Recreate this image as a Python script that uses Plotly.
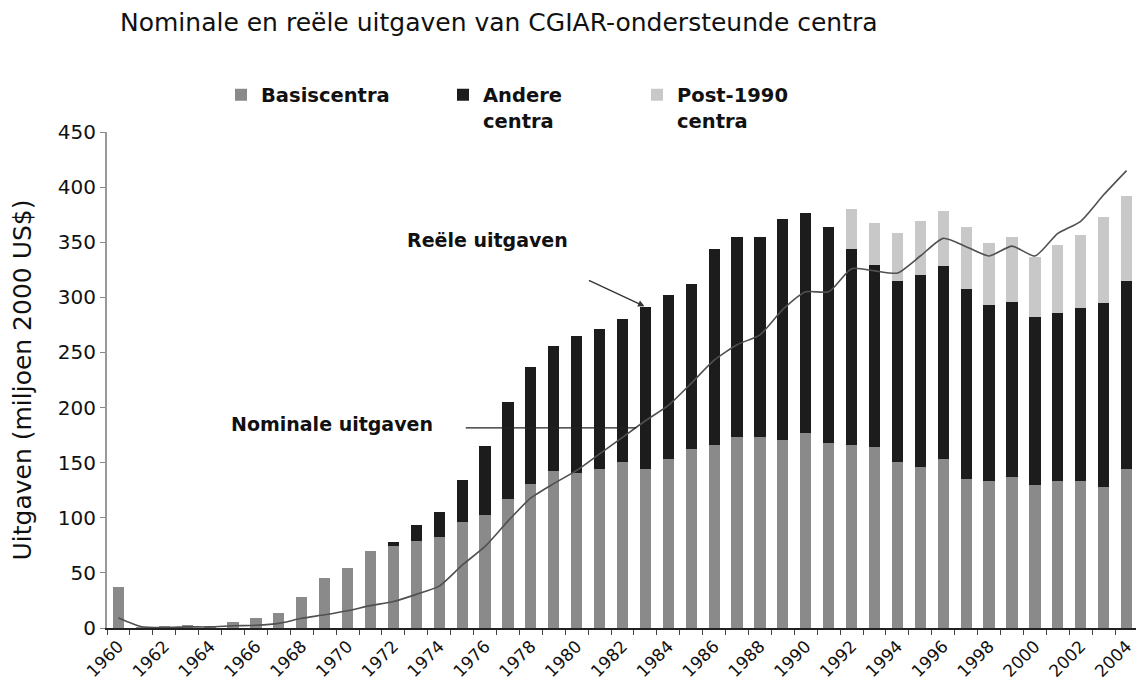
import plotly.graph_objects as go

years = list(range(1960, 2005))

basiscentra = [37.5, 0.5, 1, 3, 2, 5, 9, 14, 28, 45, 54, 70, 74, 79, 83, 96, 102.5, 117, 131, 142.5,
               140.5, 144, 151, 144, 153, 162, 166, 173, 173, 171, 176.5, 167.5, 166, 164, 151, 146,
               153, 135, 133, 137, 130, 133, 133, 128, 144]
andere_centra = [0, 0, 0, 0, 0, 0, 0, 0, 0, 0, 0, 0, 4, 14.5, 22.5, 38.5, 63, 88, 106, 113,
                 124, 127.5, 129.5, 147.5, 149, 150.5, 178, 181.5, 181.5, 200, 200, 196, 178, 165.5, 164, 174.5,
                 175.5, 173, 160, 158.5, 152.5, 153, 157, 167, 171]
post1990_centra = [0] * 32 + [36, 38, 43, 48.5, 49.5, 55.5, 56, 59.5, 54.5, 61.5, 66.5, 77.5, 77]
nominale = [9, 1.2, 0.5, 1, 1, 2, 2.5, 4.2, 8.8, 12, 15.7, 20.3, 24, 30.5, 38, 57, 74, 97, 118, 131,
            143, 158, 173, 188, 202, 222, 243, 257, 266, 289, 305, 305, 326, 324, 322, 337.5, 353.5, 346,
            337.5, 346.5, 337.5, 358, 369, 393, 415]

y_ticks = [0, 50, 100, 150, 200, 250, 300, 350, 400, 450]
x_tick_years = list(range(1960, 2005, 2))

font_family = "DejaVu Sans"

# page has an 8px body margin: figure is offset by (8, 8)
W, H = 1136, 678

fig = go.Figure()
fig.add_trace(go.Bar(x=years, y=basiscentra, name="<b>Basiscentra</b>",
                     marker=dict(color="#8a8a8a", line=dict(width=0)), legend="legend"))
fig.add_trace(go.Bar(x=years, y=andere_centra, name="<b>Andere<br>centra</b>",
                     marker=dict(color="#1c1c1c", line=dict(width=0)), legend="legend2"))
fig.add_trace(go.Bar(x=years, y=post1990_centra, name="<b>Post-1990<br>centra</b>",
                     marker=dict(color="#c8c8c8", line=dict(width=0)), legend="legend3"))
fig.add_trace(go.Scatter(x=years, y=nominale, mode="lines", showlegend=False,
                         line=dict(color="#505050", width=1.6, shape="spline", smoothing=0.6)))

totals = [a + b + c for a, b, c in zip(basiscentra, andere_centra, post1990_centra)]
i83 = years.index(1983)

legend_common = dict(orientation="v", xanchor="left", yanchor="top", valign="top",
                     font=dict(family=font_family, size=19.5, color="#111"),
                     bgcolor="rgba(0,0,0,0)", borderwidth=0)

fig.update_layout(
    width=W, height=H,
    margin=dict(l=99, r=6, t=124, b=58),
    paper_bgcolor="white", plot_bgcolor="white",
    barmode="stack", bargap=0.51,
    title=dict(text="Nominale en reële uitgaven van CGIAR-ondersteunde centra",
               x=112 / W, xanchor="left", xref="container",
               y=1 - 14 / H, yanchor="middle", yref="container",
               font=dict(family=font_family, size=25, color="#111")),
    legend=dict(x=(221 - 107) / 1031, y=1.114, **legend_common),
    legend2=dict(x=(443 - 107) / 1031, y=1.114, **legend_common),
    legend3=dict(x=(637 - 107) / 1031, y=1.114, **legend_common),
    xaxis=dict(range=[1959.5, 2004.5], tickmode="array", tickvals=x_tick_years,
               ticktext=[str(y) for y in x_tick_years], tickangle=-45, ticks="",
               tickfont=dict(family=font_family, size=17, color="#111"),
               showgrid=False, zeroline=False, showline=True, linecolor="#222", linewidth=1.5,
               minor=dict(tick0=1959.5, dtick=1, ticks="outside", ticklen=5, tickcolor="#444",
                          showgrid=False)),
    yaxis=dict(range=[0, 450], tickmode="array", tickvals=y_ticks, ticks="outside", ticklen=5,
               tickcolor="#888", tickfont=dict(family=font_family, size=20, color="#111"),
               showgrid=False, zeroline=False, showline=True, linecolor="#999", linewidth=2,
               title=dict(text="Uitgaven (miljoen 2000 US$)", standoff=20,
                          font=dict(family=font_family, size=25, color="#111"))),
    annotations=[
        dict(x=1976.1, y=352, xref="x", yref="y", text="<b>Reële uitgaven</b>", showarrow=False,
             font=dict(family=font_family, size=19, color="#111")),
        dict(x=1983, y=totals[i83], xref="x", yref="y", text="", showarrow=True,
             ax=-58, ay=-27, arrowhead=2, arrowsize=1, arrowwidth=1.3, arrowcolor="#333", standoff=1),
        dict(x=1969.3, y=185, xref="x", yref="y", text="<b>Nominale uitgaven</b>", showarrow=False,
             font=dict(family=font_family, size=19, color="#111")),
        dict(x=1982.6, y=181.5, xref="x", yref="y", text="", showarrow=True,
             ax=-172, ay=0, arrowhead=0, arrowwidth=1.3, arrowcolor="#222", standoff=0),
    ],
)

fig.write_html("out.html")
